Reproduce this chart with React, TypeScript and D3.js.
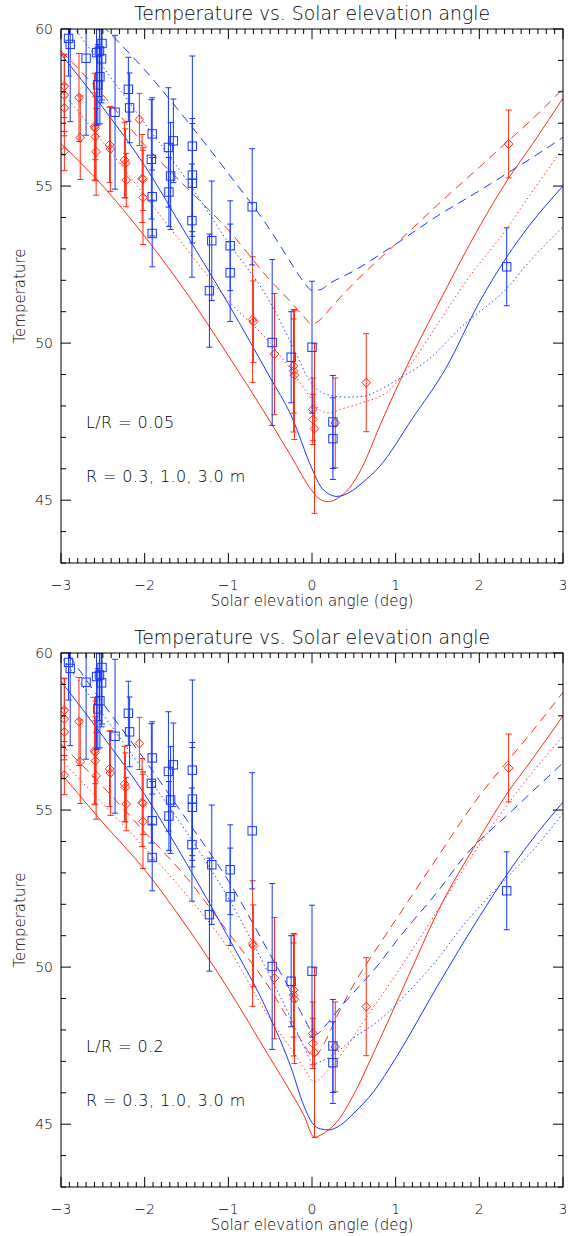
import React from 'react';
import * as d3 from 'd3';

// ---------- measured data (identical in both panels) ----------
const redAngle = [-2.96, -2.96, -2.96, -2.96, -2.785, -2.77, -2.6, -2.59, -2.59, -2.58, -2.42, -2.41, -2.24, -2.23, -2.22, -2.063, -2.03, -2.02, -2.02, -0.71, -0.7, -0.448, -0.22, -0.22, -0.21, 0.01, 0.01, 0.03, 0.278, 0.648, 2.35];
const redTemp = [58.18, 57.9, 57.49, 56.11, 57.82, 56.54, 56.89, 56.84, 56.57, 56.09, 56.31, 56.18, 55.83, 55.72, 55.19, 57.12, 55.24, 55.22, 54.64, 50.75, 50.68, 49.65, 49.27, 49.12, 48.98, 47.89, 47.57, 47.28, 47.46, 48.74, 56.34];
const redErr = [1.0, 1.3, 0.75, 0.62, 1.4, 1.33, 1.7, 1.0, 1.4, 1.38, 1.2, 1.35, 1.2, 1.1, 0.85, 0.83, 1.4, 1.0, 1.5, 2.0, 1.3, 1.93, 1.5, 1.95, 2.05, 1.0, 0.8, 2.7, 1.43, 1.56, 1.08];

const blueAngle = [-2.91, -2.89, -2.7, -2.575, -2.51, -2.515, -2.54, -2.535, -2.56, -2.354, -2.195, -2.18, -1.91, -1.92, -1.91, -1.91, -1.716, -1.657, -1.69, -1.71, -1.43, -1.43, -1.43, -1.435, -1.198, -1.226, -0.978, -0.978, -0.715, -0.476, -0.249, 0.0, 0.25, 0.25, 2.327];
const blueTemp = [59.7, 59.51, 59.07, 59.25, 59.54, 59.05, 59.3, 58.48, 58.22, 57.35, 58.08, 57.49, 56.66, 55.85, 54.66, 53.49, 56.23, 56.44, 55.32, 54.81, 56.27, 55.35, 55.09, 53.9, 53.26, 51.67, 53.1, 52.24, 54.34, 50.02, 49.55, 49.87, 47.49, 46.96, 52.43];
const blueErr = [1.2, 2.46, 2.45, 2.3, 1.8, 1.4, 1.45, 1.5, 1.28, 2.45, 1.02, 1.11, 1.15, 1.9, 1.25, 1.06, 1.9, 1.33, 1.7, 1.1, 2.87, 1.8, 1.9, 1.8, 1.9, 1.8, 1.43, 1.55, 1.85, 2.64, 1.45, 2.1, 1.48, 1.3, 1.24];

// ---------- model curves, panel 1 (L/R = 0.05) ----------
const p1RedSolid = [[-3, 56.35], [-2.5, 55.0], [-2, 53.4], [-1.5, 51.6], [-1, 49.6], [-0.5, 47.5], [-0.25, 46.4], [0, 45.3], [0.1, 45.02], [0.2, 44.95], [0.3, 45.05], [0.45, 45.4], [0.6, 46.05], [0.8, 47.3], [1.0, 48.5], [1.25, 49.9], [1.5, 51.2], [2.0, 53.7], [2.35, 55.25], [2.6, 56.2], [3.0, 57.8]];
const p1BlueSolid = [[-3, 59.2], [-2.5, 57.5], [-2, 55.65], [-1.5, 53.45], [-1, 51.25], [-0.5, 48.9], [-0.25, 47.7], [0, 46.0], [0.1, 45.45], [0.2, 45.2], [0.3, 45.12], [0.45, 45.25], [0.6, 45.55], [0.8, 46.05], [1.2, 47.6], [1.6, 49.2], [2.0, 51.3], [2.33, 52.75], [2.6, 53.75], [3.0, 55.0]];
const p1RedDotted = [[-3, 58.05], [-2.5, 56.4], [-2, 54.7], [-1.5, 53.0], [-1, 51.35], [-0.5, 50.0], [-0.25, 49.15], [0, 48.2], [0.1, 47.85], [0.2, 47.78], [0.35, 47.9], [0.6, 48.1], [0.9, 48.45], [1.2, 49.4], [1.5, 50.6], [1.85, 52.0], [2.33, 53.65], [2.6, 54.7], [3.0, 56.2]];
const p1BlueDotted = [[-3, 60.6], [-2.5, 58.8], [-2, 57.0], [-1.5, 55.2], [-1, 53.2], [-0.5, 51.3], [-0.25, 50.0], [0, 48.7], [0.1, 48.45], [0.2, 48.35], [0.4, 48.28], [0.6, 48.3], [0.8, 48.5], [1.0, 48.8], [1.4, 49.5], [1.8, 50.55], [2.33, 51.75], [2.6, 52.6], [3.0, 53.7]];
const p1RedDashed = [[-3, 59.3], [-2.5, 57.9], [-2, 56.3], [-1.5, 54.95], [-1, 53.6], [-0.5, 52.0], [-0.25, 51.3], [-0.1, 50.85], [0, 50.6], [0.1, 50.75], [0.25, 51.2], [0.5, 51.9], [0.75, 52.55], [1.0, 53.15], [1.5, 54.4], [2.0, 55.6], [2.35, 56.45], [2.6, 57.05], [3.0, 58.1]];
const p1BlueDashed = [[-3, 61.5], [-2.5, 60.1], [-2, 58.7], [-1.5, 57.1], [-1, 55.4], [-0.5, 53.6], [-0.25, 52.55], [-0.1, 51.95], [0, 51.68], [0.1, 51.7], [0.2, 51.88], [0.5, 52.3], [1.0, 53.15], [1.5, 54.05], [2.0, 54.85], [2.33, 55.4], [2.6, 55.85], [3.0, 56.55]];

// ---------- model curves, panel 2 (L/R = 0.2) ----------
const p2RedSolid = [[-3, 56.17], [-2.5, 54.6], [-2, 53.1], [-1.5, 51.3], [-1, 49.3], [-0.5, 47.1], [-0.25, 46.0], [-0.1, 45.3], [0.03, 44.58], [0.1, 44.65], [0.2, 44.82], [0.3, 45.08], [0.5, 45.95], [0.75, 47.35], [1.15, 49.7], [1.5, 51.75], [2.0, 54.1], [2.35, 55.6], [2.6, 56.5], [3.0, 58.0]];
const p2BlueSolid = [[-3, 59.1], [-2.5, 57.35], [-2, 55.5], [-1.5, 53.3], [-1, 50.95], [-0.5, 48.4], [-0.25, 46.8], [-0.1, 45.6], [0, 45.05], [0.1, 44.85], [0.2, 44.82], [0.34, 44.97], [0.5, 45.35], [0.74, 46.05], [1.0, 47.1], [1.5, 49.4], [2.0, 51.6], [2.33, 52.95], [2.6, 53.95], [3.0, 55.25]];
const p2RedDotted = [[-3, 56.6], [-2.5, 55.2], [-2, 53.8], [-1.5, 52.3], [-1, 50.6], [-0.5, 48.35], [-0.25, 47.4], [-0.1, 46.8], [0.03, 46.35], [0.15, 46.6], [0.3, 47.05], [0.65, 48.4], [1.0, 49.75], [1.5, 51.8], [2.0, 53.9], [2.5, 55.75], [3.0, 57.35]];
const p2RedDashed = [[-3, 57.1], [-2.5, 55.75], [-2, 54.3], [-1.5, 52.85], [-1, 51.1], [-0.5, 49.3], [-0.25, 48.2], [-0.1, 47.55], [0.02, 47.15], [0.15, 47.6], [0.3, 48.45], [0.5, 49.45], [0.75, 50.5], [1.0, 51.5], [1.5, 53.5], [2.0, 55.45], [2.35, 56.6], [2.6, 57.4], [3.0, 58.75]];
const p2BlueDotted = [[-3, 59.9], [-2.5, 58.05], [-2, 56.2], [-1.5, 54.3], [-1, 52.2], [-0.5, 49.7], [-0.25, 48.35], [-0.1, 47.5], [0.02, 46.93], [0.15, 47.05], [0.3, 47.3], [0.5, 47.75], [0.8, 48.3], [1.2, 49.35], [1.5, 50.25], [1.8, 51.3], [2.33, 52.85], [2.6, 53.6], [3.0, 54.9]];
const p2BlueDashed = [[-3, 60.3], [-2.5, 58.4], [-2, 56.6], [-1.5, 54.7], [-1, 52.75], [-0.5, 50.4], [-0.25, 49.2], [-0.1, 48.4], [0.04, 47.85], [0.15, 48.1], [0.3, 48.6], [0.5, 49.2], [0.8, 50.1], [1.0, 50.8], [1.2, 51.45], [1.5, 52.4], [1.8, 53.45], [2.4, 55.0], [3.0, 56.5]];

// ---------- axes / labels ----------
const xDomain = [-3, 3];
const yDomain = [43, 60];
const xMajorTicks = [-3, -2, -1, 0, 1, 2, 3];
const yMajorTicks = [45, 50, 55, 60];
const titleText = 'Temperature vs. Solar elevation angle';
const xTitle = 'Solar elevation angle (deg)';
const yTitle = 'Temperature';
const lrLabels = ['L/R = 0.05', 'L/R = 0.2'];
const radiusLabel = 'R = 0.3, 1.0, 3.0 m';

const RED = '#ff2a12';
const BLUE = '#1636ff';
const FONT = 'DejaVu Sans, sans-serif';
const FW = 300;

const PLOT_L = 61;
const PLOT_R = 563;
const PLOT_H = 534;
const DASH = { solid: undefined, dotted: '1.4,2.8', dashed: '9,6' } as Record<string, string | undefined>;

type Curve = { pts: number[][]; color: string; style: string };

function Panel({ top, idx, curves }: { top: number; idx: number; curves: Curve[] }) {
  const x = d3.scaleLinear().domain(xDomain).range([PLOT_L, PLOT_R]);
  const y = d3.scaleLinear().domain(yDomain).range([top + PLOT_H, top]);
  const bottom = top + PLOT_H;
  const line = d3
    .line<number[]>()
    .x((d) => x(d[0]))
    .y((d) => y(d[1]))
    .curve(d3.curveMonotoneX);
  const clipId = `clip${idx}`;
  const xMinor = d3.range(-30, 31).map((i) => i / 10);
  const yMinor = d3.range(43, 61);
  const midX = (PLOT_L + PLOT_R) / 2;

  const errBars = (ang: number[], tmp: number[], err: number[], color: string) =>
    ang.map((a, i) => {
      const cx = x(a);
      const y1 = y(tmp[i] + err[i]);
      const y2 = y(tmp[i] - err[i]);
      return (
        <g key={`e${color}${i}`} stroke={color} strokeWidth={1} fill="none">
          <line x1={cx} x2={cx} y1={y1} y2={y2} />
          <line x1={cx - 3} x2={cx + 3} y1={y1} y2={y1} />
          <line x1={cx - 3} x2={cx + 3} y1={y2} y2={y2} />
        </g>
      );
    });

  return (
    <g>
      <defs>
        <clipPath id={clipId}>
          <rect x={PLOT_L} y={top} width={PLOT_R - PLOT_L} height={PLOT_H} />
        </clipPath>
      </defs>
      <text x={midX} y={top - 9} fontSize={18.8} fontWeight={FW} textAnchor="middle" fontFamily={FONT} fill="#000">
        {titleText}
      </text>
      <g clipPath={`url(#${clipId})`}>
        {curves.map((c, i) => (
          <path key={i} d={line(c.pts) || ''} fill="none" stroke={c.color} strokeWidth={1} strokeDasharray={DASH[c.style]} />
        ))}
        {errBars(redAngle, redTemp, redErr, RED)}
        {redAngle.map((a, i) => {
          const cx = x(a);
          const cy = y(redTemp[i]);
          return (
            <path key={`r${i}`} d={`M${cx},${cy - 4.5}L${cx + 4.3},${cy}L${cx},${cy + 4.5}L${cx - 4.3},${cy}Z`} fill="none" stroke={RED} strokeWidth={1} />
          );
        })}
        {errBars(blueAngle, blueTemp, blueErr, BLUE)}
        {blueAngle.map((a, i) => (
          <rect key={`b${i}`} x={x(a) - 4.2} y={y(blueTemp[i]) - 4.2} width={8.4} height={8.4} fill="none" stroke={BLUE} strokeWidth={1} />
        ))}
      </g>
      {/* frame */}
      <rect x={PLOT_L} y={top} width={PLOT_R - PLOT_L} height={PLOT_H} fill="none" stroke="#000" strokeWidth={1} />
      {/* x ticks */}
      {xMinor.map((v, i) => {
        const major = Math.abs(v - Math.round(v)) < 1e-6;
        const len = major ? 10 : 5;
        const px = x(v);
        return (
          <g key={`xt${i}`} stroke="#000" strokeWidth={1}>
            <line x1={px} x2={px} y1={bottom} y2={bottom - len} />
            <line x1={px} x2={px} y1={top} y2={top + len} />
          </g>
        );
      })}
      {yMinor.map((v, i) => {
        const major = v % 5 === 0;
        const len = major ? 10 : 5;
        const py = y(v);
        return (
          <g key={`yt${i}`} stroke="#000" strokeWidth={1}>
            <line x1={PLOT_L} x2={PLOT_L + len} y1={py} y2={py} />
            <line x1={PLOT_R} x2={PLOT_R - len} y1={py} y2={py} />
          </g>
        );
      })}
      {xMajorTicks.map((v) => (
        <text key={`xl${v}`} x={x(v)} y={bottom + 27} fontSize={14} fontWeight={FW} textAnchor="middle" fontFamily={FONT} fill="#000">
          {v < 0 ? `\u2212${Math.abs(v)}` : `${v}`}
        </text>
      ))}
      {yMajorTicks.map((v) => (
        <text key={`yl${v}`} x={53} y={y(v) + 5} fontSize={14} fontWeight={FW} textAnchor="end" fontFamily={FONT} fill="#000">
          {v}
        </text>
      ))}
      <text x={midX} y={bottom + 43} fontSize={15} fontWeight={FW} textAnchor="middle" fontFamily={FONT} fill="#000">
        {xTitle}
      </text>
      <text transform={`translate(25,${top + PLOT_H / 2}) rotate(-90)`} fontSize={15} fontWeight={FW} textAnchor="middle" fontFamily={FONT} fill="#000">
        {yTitle}
      </text>
      <text x={86} y={top + 399} fontSize={16} fontWeight={FW} letterSpacing={0.4} fontFamily={FONT} fill="#000">
        {lrLabels[idx]}
      </text>
      <text x={86} y={top + 453} fontSize={16} fontWeight={FW} letterSpacing={0.4} fontFamily={FONT} fill="#000">
        {radiusLabel}
      </text>
    </g>
  );
}

export default function App() {
  const panel1: Curve[] = [
    { pts: p1RedSolid, color: RED, style: 'solid' },
    { pts: p1RedDotted, color: RED, style: 'dotted' },
    { pts: p1RedDashed, color: RED, style: 'dashed' },
    { pts: p1BlueSolid, color: BLUE, style: 'solid' },
    { pts: p1BlueDotted, color: BLUE, style: 'dotted' },
    { pts: p1BlueDashed, color: BLUE, style: 'dashed' },
  ];
  const panel2: Curve[] = [
    { pts: p2RedSolid, color: RED, style: 'solid' },
    { pts: p2RedDotted, color: RED, style: 'dotted' },
    { pts: p2RedDashed, color: RED, style: 'dashed' },
    { pts: p2BlueSolid, color: BLUE, style: 'solid' },
    { pts: p2BlueDotted, color: BLUE, style: 'dotted' },
    { pts: p2BlueDashed, color: BLUE, style: 'dashed' },
  ];
  return (
    <svg width={568} height={1236} style={{ position: 'absolute', left: 0, top: 0, background: '#fff' }}>
      <rect x={0} y={0} width={568} height={1236} fill="#fff" />
      <Panel top={29} idx={0} curves={panel1} />
      <Panel top={653} idx={1} curves={panel2} />
    </svg>
  );
}
